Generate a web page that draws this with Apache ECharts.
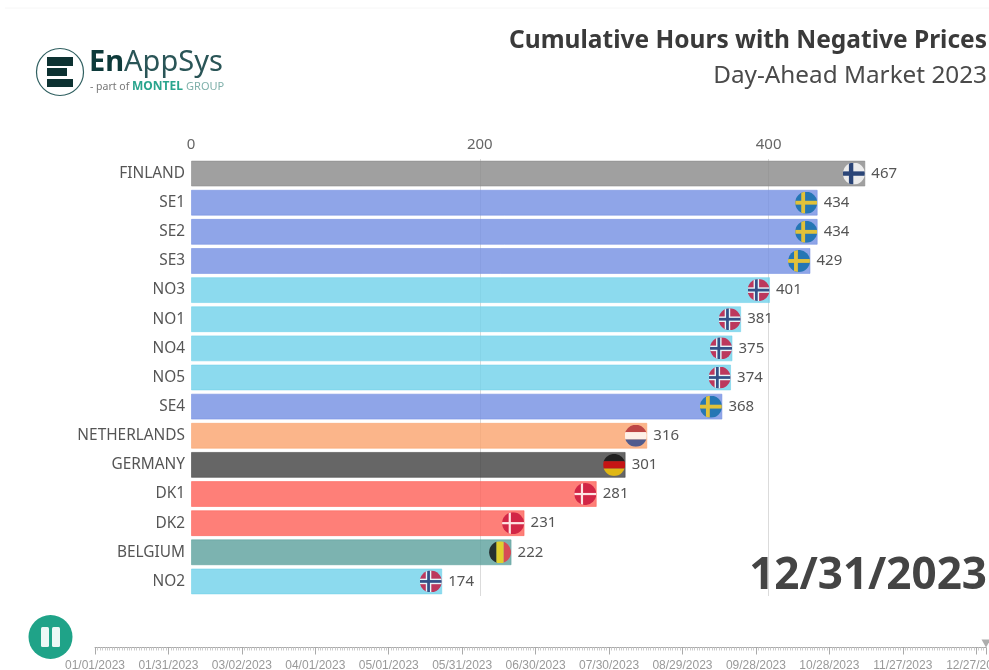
<!DOCTYPE html>
<html><head><meta charset="utf-8">
<style>html,body{margin:0;padding:0;background:#fff;overflow:hidden}#c{width:989px;height:670px}</style>
<script src="https://cdn.jsdelivr.net/npm/echarts@6/dist/echarts.min.js"></script>
</head><body><div id="c"></div>
<script>
const categories = ['FINLAND','SE1','SE2','SE3','NO3','NO1','NO4','NO5','SE4','NETHERLANDS','GERMANY','DK1','DK2','BELGIUM','NO2'];
const hours = [467,434,434,429,401,381,375,374,368,316,301,281,231,222,174];
const countries = ['fi','se','se','se','no','no','no','no','se','nl','de','dk','dk','be','no'];
const xTicks = [0,200,400];
const timelineLabels = ['01/01/2023','01/31/2023','03/02/2023','04/01/2023','05/01/2023','05/31/2023','06/30/2023','07/30/2023','08/29/2023','09/28/2023','10/28/2023','11/27/2023','12/27/2023'];
const currentDate = '12/31/2023';

const palette = {fi:'136,136,136',se:'115,142,226',no:'111,209,234',nl:'250,162,109',de:'64,64,64',dk:'254,95,86',be:'91,160,156'};
const flagArt = {
 fi:'<rect width="40" height="40" fill="#fff"/><rect x="11" width="8" height="40" fill="#0f2f6e"/><rect y="16" width="40" height="8" fill="#0f2f6e"/>',
 se:'<rect width="40" height="40" fill="#0b6ba8"/><rect x="11" width="7" height="40" fill="#f6c80f"/><rect y="16.5" width="40" height="7" fill="#f6c80f"/>',
 no:'<rect width="40" height="40" fill="#c8103a"/><rect x="11" width="10" height="40" fill="#fff"/><rect y="15" width="40" height="10" fill="#fff"/><rect x="13.5" width="5" height="40" fill="#1d2f6f"/><rect y="17.5" width="40" height="5" fill="#1d2f6f"/>',
 nl:'<rect width="40" height="14" fill="#ae2b35"/><rect y="13.3" width="40" height="13.4" fill="#fff"/><rect y="26.7" width="40" height="13.3" fill="#27468f"/>',
 de:'<rect width="40" height="14" fill="#111"/><rect y="13.3" width="40" height="13.4" fill="#dd0000"/><rect y="26.7" width="40" height="13.3" fill="#ffcc00"/>',
 dk:'<rect width="40" height="40" fill="#c8103a"/><rect x="12" width="4" height="40" fill="#fff"/><rect y="18" width="40" height="4" fill="#fff"/>',
 be:'<rect width="14" height="40" fill="#111"/><rect x="13.3" width="13.4" height="40" fill="#fbd80e"/><rect x="26.7" width="13.3" height="40" fill="#ee3340"/>'
};
function flag(k){
 const s='<svg xmlns="http://www.w3.org/2000/svg" width="40" height="40" viewBox="0 0 40 40"><defs><clipPath id="c"><circle cx="20" cy="20" r="20"/></clipPath></defs><g clip-path="url(#c)">'+flagArt[k]+'</g></svg>';
 return 'image://data:image/svg+xml;charset=utf-8,'+encodeURIComponent(s);
}
const font='"Noto Sans", sans-serif';
const chart=echarts.init(document.getElementById('c'),null,{renderer:'canvas'});
chart.setOption({
 animation:false,
 backgroundColor:'#fff',
 grid:[
  {left:191,top:159,width:722,height:437,containLabel:false,outerBoundsMode:'none'},
  {left:95,top:647.5,width:891,height:0,containLabel:false,outerBoundsMode:'none'}
 ],
 xAxis:[
  {type:'value',gridIndex:0,position:'top',min:0,max:500,interval:200,
   axisLine:{show:false},axisTick:{show:false},
   splitLine:{show:true,showMinLine:false,showMaxLine:false,lineStyle:{color:'rgba(90,90,90,0.22)',width:1}},
   axisLabel:{show:true,showMaxLabel:false,color:'#666',fontSize:15,fontFamily:font,margin:7,
     formatter:v=>xTicks.includes(v)?String(v):''}},
  {type:'value',gridIndex:1,position:'bottom',min:0,max:364,interval:30,
   axisLine:{show:true,lineStyle:{color:'#aaa',width:1}},
   axisTick:{show:true,length:7,lineStyle:{color:'#aaa'}},
   minorTick:{show:true,splitNumber:30,length:3,lineStyle:{color:'#ccc'}},
   splitLine:{show:false},
   axisLabel:{show:true,showMaxLabel:false,hideOverlap:false,color:'#999',fontSize:12,fontFamily:'"Liberation Sans", sans-serif',margin:12,
     formatter:v=>timelineLabels[v/30]||''}}
 ],
 yAxis:[
  {type:'category',gridIndex:0,inverse:true,data:categories,
   axisLine:{show:false},axisTick:{show:false},splitLine:{show:false},
   axisLabel:{color:'#555',fontSize:15.4,fontFamily:font,margin:6}},
  {type:'value',gridIndex:1,min:0,max:1,show:false}
 ],
 series:[
  {type:'bar',xAxisIndex:0,yAxisIndex:0,barCategoryGap:'11%',z:2,
   data:hours.map((v,i)=>({value:v,itemStyle:{
     color:'rgba('+palette[countries[i]]+',0.8)',
     borderColor:'rgba('+palette[countries[i]]+',0.55)',borderWidth:1}})),
   label:{show:true,position:'right',distance:6,color:'#555',fontSize:15,fontFamily:font}},
  {type:'scatter',xAxisIndex:0,yAxisIndex:0,z:3,symbolSize:22,symbolOffset:[-11.5,0],silent:true,
   data:hours.map((v,i)=>({value:[v,i],symbol:flag(countries[i])}))},
  {type:'scatter',xAxisIndex:1,yAxisIndex:1,z:3,symbol:'triangle',symbolRotate:180,symbolSize:[9,8],symbolOffset:[0,-4],
   itemStyle:{color:'#999'},silent:true,data:[[364,0]]}
 ],
 graphic:[
  {type:'line',shape:{x1:5,y1:8,x2:989,y2:8},style:{stroke:'#f6f6f6',lineWidth:1}},
  {type:'text',x:987,y:41,style:{text:'Cumulative Hours with Negative Prices',align:'right',verticalAlign:'middle',font:'700 24.5px '+font,fill:'#3a3a3a'}},
  {type:'text',x:987,y:76,style:{text:'Day-Ahead Market 2023',align:'right',verticalAlign:'middle',font:'400 24.3px '+font,fill:'#4a4a4a'}},
  {type:'text',x:987,y:576,z:10,style:{text:currentDate,align:'right',verticalAlign:'middle',font:'700 44px '+font,fill:'#444'}},
  // logo
  {type:'circle',shape:{cx:60,cy:72,r:23.5},style:{fill:'#fff',stroke:'#2f5f60',lineWidth:1.2}},
  {type:'rect',shape:{x:47,y:57,width:26,height:9},style:{fill:'#0d3232'}},
  {type:'rect',shape:{x:47,y:68,width:20,height:8},style:{fill:'#0d3232'}},
  {type:'rect',shape:{x:47,y:79,width:26,height:8},style:{fill:'#0d3232'}},
  {type:'text',x:89,y:63,style:{text:'{a|En}{b|AppSys}',verticalAlign:'middle',
    rich:{a:{fontFamily:font,fontWeight:700,fontSize:29,fill:'#0d3a3a'},
          b:{fontFamily:font,fontWeight:400,fontSize:29,fill:'#2a5557'}}}},
  {type:'text',x:90,y:87,style:{text:'{c|- part of }{d|MONTEL }{e|GROUP}',verticalAlign:'middle',
    rich:{c:{fontFamily:font,fontSize:10.5,fill:'#777'},
          d:{fontFamily:font,fontSize:12,fontWeight:700,fill:'#2aa58e'},
          e:{fontFamily:font,fontSize:11,fill:'#7fb0aa'}}}},
  // play control
  {type:'circle',shape:{cx:50.5,cy:637,r:22},style:{fill:'#1fa388'}},
  {type:'rect',shape:{x:41,y:627,width:8,height:20,r:1.5},style:{fill:'#fff',opacity:0.92}},
  {type:'rect',shape:{x:52,y:627,width:8,height:20,r:1.5},style:{fill:'#fff',opacity:0.92}}
 ]
});
</script></body></html>
